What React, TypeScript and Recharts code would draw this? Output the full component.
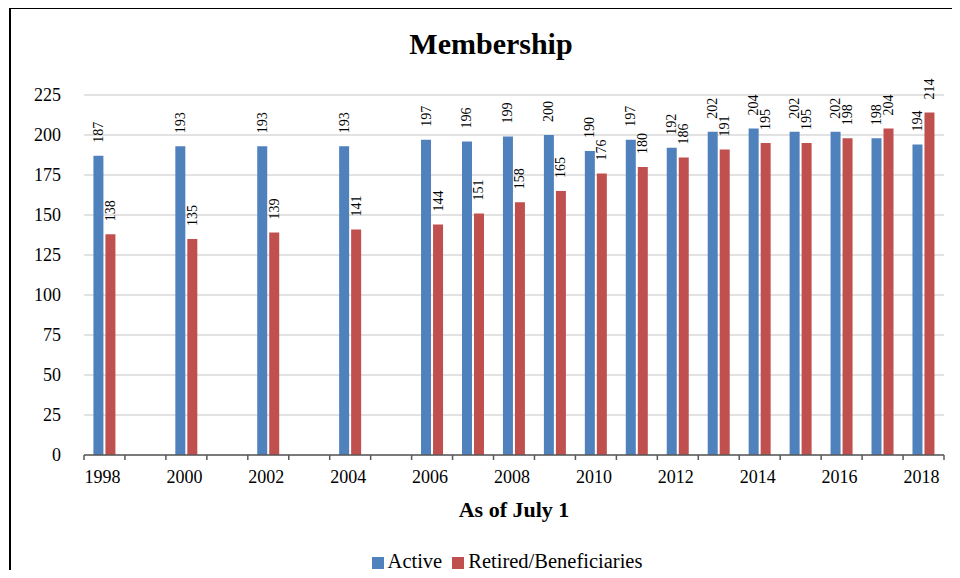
import React from "react";
import { BarChart, Bar, XAxis, YAxis, CartesianGrid, Legend, LabelList } from "recharts";

// years on a continuous yearly axis; odd years before 2006 have no data
const years = [
    "1998", "1999", "2000", "2001", "2002", "2003", "2004", "2005", "2006", "2007",
    "2008", "2009", "2010", "2011", "2012", "2013", "2014", "2015", "2016", "2017", "2018",
];
const active = [
    187, null, 193, null, 193, null, 193, null, 197, 196,
    199, 200, 190, 197, 192, 202, 204, 202, 202, 198, 194,
];
const retired = [
    138, null, 135, null, 139, null, 141, null, 144, 151,
    158, 165, 176, 180, 186, 191, 195, 195, 198, 204, 214,
];
const tickLabels = ["1998", "2000", "2002", "2004", "2006", "2008", "2010", "2012", "2014", "2016", "2018"];
const yTicks = [0, 25, 50, 75, 100, 125, 150, 175, 200, 225];

const FONT = "'Liberation Serif', 'Times New Roman', serif";

const data = years.map((year, i) => ({
    year,
    active: active[i],
    retired: retired[i],
}));

// Excel style: tick marks on slot boundaries, labels only on even years
function XTick(props: any) {
    const { x, y, payload } = props;
    const half = payload.offset || 0;
    const isLast = payload.index === years.length - 1;
    return (
        <g>
            <line x1={x - half} y1={y} x2={x - half} y2={y + 5} stroke="#595959" strokeWidth={1.5} />
            {isLast && (
                <line x1={x + half} y1={y} x2={x + half} y2={y + 5} stroke="#595959" strokeWidth={1.5} />
            )}
            {tickLabels.includes(payload.value) && (
                <text x={x - 2} y={y + 28} textAnchor="middle" fontFamily={FONT} fontSize={18} fill="#000">
                    {payload.value}
                </text>
            )}
        </g>
    );
}

function BarLabel(props: any) {
    const { x, y, width, value } = props;
    if (value == null) return null;
    const cx = x + width / 2;
    const cy = y - 13;
    return (
        <text
            x={cx}
            y={cy}
            transform={`rotate(-90, ${cx}, ${cy})`}
            textAnchor="start"
            dominantBaseline="central"
            fontFamily={FONT}
            fontSize={14}
            fill="#000"
        >
            {value}
        </text>
    );
}

export default function App() {
    return (
        <div style={{ position: "relative", width: 952, height: 570, overflow: "hidden", marginBottom: -8 }}>
            <div
                style={{
                    position: "absolute",
                    left: 1,
                    top: -1,
                    width: 1000,
                    height: 700,
                    borderLeft: "2px solid #000",
                    borderTop: "2px solid #000",
                }}
            />
            <div
                style={{
                    position: "absolute",
                    left: 0,
                    top: 21,
                    width: 966,
                    textAlign: "center",
                    fontFamily: FONT,
                    fontWeight: "bold",
                    fontSize: 30,
                    lineHeight: "30px",
                    color: "#000",
                }}
            >
                Membership
            </div>
            <div style={{ position: "absolute", left: 0, top: 0 }}>
                <BarChart
                    width={952}
                    height={570}
                    data={data}
                    margin={{ top: 87, right: 16, left: 16, bottom: 4 }}
                    barCategoryGap="23%"
                    barGap={2}
                >
                    <CartesianGrid vertical={false} stroke="#d9d9d9" strokeWidth={1.5} />
                    <XAxis
                        dataKey="year"
                        interval={0}
                        height={93}
                        tickSize={0}
                        tickMargin={0}
                        tickLine={false}
                        tick={<XTick />}
                        axisLine={{ stroke: "#595959", strokeWidth: 1.5 }}
                        label={{
                            value: "As of July 1",
                            position: "insideBottom",
                            offset: 31,
                            fontFamily: FONT,
                            fontSize: 22,
                            fontWeight: "bold",
                            fill: "#000",
                        }}
                    />
                    <YAxis
                        width={60}
                        domain={[0, 225]}
                        ticks={yTicks}
                        interval={0}
                        axisLine={false}
                        tickLine={false}
                        tickMargin={17}
                        tick={{ fontFamily: FONT, fontSize: 18, fill: "#000" }}
                    />
                    <Legend
                        verticalAlign="bottom"
                        iconType="square"
                        iconSize={12}
                        wrapperStyle={{
                            height: 26,
                            lineHeight: "26px",
                            left: 54,
                            width: 900,
                            fontFamily: FONT,
                            fontSize: 20.5,
                        }}
                        formatter={(value) => <span style={{ color: "#000" }}>{value}</span>}
                    />
                    <Bar dataKey="active" name="Active" fill="#4f81bd" isAnimationActive={false}>
                        <LabelList dataKey="active" content={<BarLabel />} />
                    </Bar>
                    <Bar dataKey="retired" name="Retired/Beneficiaries" fill="#c0504d" isAnimationActive={false}>
                        <LabelList dataKey="retired" content={<BarLabel />} />
                    </Bar>
                </BarChart>
            </div>
        </div>
    );
}
